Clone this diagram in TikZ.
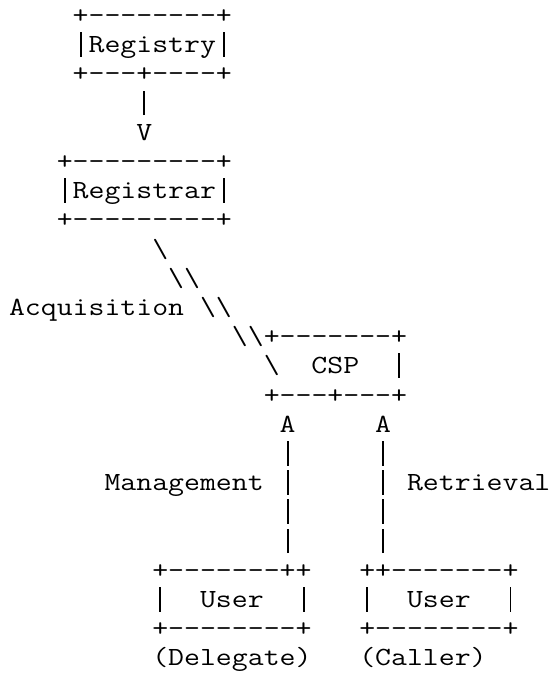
\documentclass[tikz,border=0pt]{standalone}
\usepackage{fontspec}
\newcommand{\bsl}{\textbackslash}
\newcommand{\vb}{\makebox[0pt][l]{\makebox[\fontcharwd\font`\x]{\rule[-4bp]{1.6bp}{24.5bp}}}\phantom{x}}
\begin{document}
\begin{tikzpicture}[x=1bp,y=-1bp,
  asciirow/.style={anchor=base west,inner sep=0pt,outer sep=0pt,xscale=1.18,
    font=\fontsize{26.2bp}{29.2bp}\selectfont\ttfamily}]
\useasboundingbox (0,0) rectangle (552,675);
\def\rowy#1{23.5+29.2*(#1-1)}
\node[asciirow] (l1)  at (9,{\rowy{1}})  {~~~~+--------+};
\node[asciirow] (l2)  at (9,{\rowy{2}})  {~~~~\vb Registry\vb};
\node[asciirow] (l3)  at (9,{\rowy{3}})  {~~~~+---+----+};
\node[asciirow] (l4)  at (9,{\rowy{4}})  {~~~~~~~~\vb};
\node[asciirow] (l5)  at (9,{\rowy{5}})  {~~~~~~~~V};
\node[asciirow] (l6)  at (9,{\rowy{6}})  {~~~+---------+};
\node[asciirow] (l7)  at (9,{\rowy{7}})  {~~~\vb Registrar\vb};
\node[asciirow] (l8)  at (9,{\rowy{8}})  {~~~+---------+};
\node[asciirow] (l9)  at (9,{\rowy{9}})  {~~~~~~~~~\bsl};
\node[asciirow] (l10) at (9,{\rowy{10}}) {~~~~~~~~~~\bsl\bsl};
\node[asciirow] (l11) at (9,{\rowy{11}}) {Acquisition~\bsl\bsl};
\node[asciirow] (l12) at (9,{\rowy{12}}) {~~~~~~~~~~~~~~\bsl\bsl+-------+};
\node[asciirow] (l13) at (9,{\rowy{13}}) {~~~~~~~~~~~~~~~~\bsl~~CSP~~\vb};
\node[asciirow] (l14) at (9,{\rowy{14}}) {~~~~~~~~~~~~~~~~+---+---+};
\node[asciirow] (l15) at (9,{\rowy{15}}) {~~~~~~~~~~~~~~~~~A~~~~~A};
\node[asciirow] (l16) at (9,{\rowy{16}}) {~~~~~~~~~~~~~~~~~\vb~~~~~\vb};
\node[asciirow] (l17) at (9,{\rowy{17}}) {~~~~~~Management~\vb~~~~~\vb~Retrieval};
\node[asciirow] (l18) at (9,{\rowy{18}}) {~~~~~~~~~~~~~~~~~\vb~~~~~\vb};
\node[asciirow] (l19) at (9,{\rowy{19}}) {~~~~~~~~~~~~~~~~~\vb~~~~~\vb};
\node[asciirow] (l20) at (9,{\rowy{20}}) {~~~~~~~~~+-------++~~~++-------+};
\node[asciirow] (l21) at (9,{\rowy{21}}) {~~~~~~~~~\vb~~User~~\vb~~~\vb~~User~~\vb};
\node[asciirow] (l22) at (9,{\rowy{22}}) {~~~~~~~~~+--------+~~~+--------+};
\node[asciirow] (l23) at (9,{\rowy{23}}) {~~~~~~~~~(Delegate)~~~(Caller)};
\end{tikzpicture}
\end{document}
